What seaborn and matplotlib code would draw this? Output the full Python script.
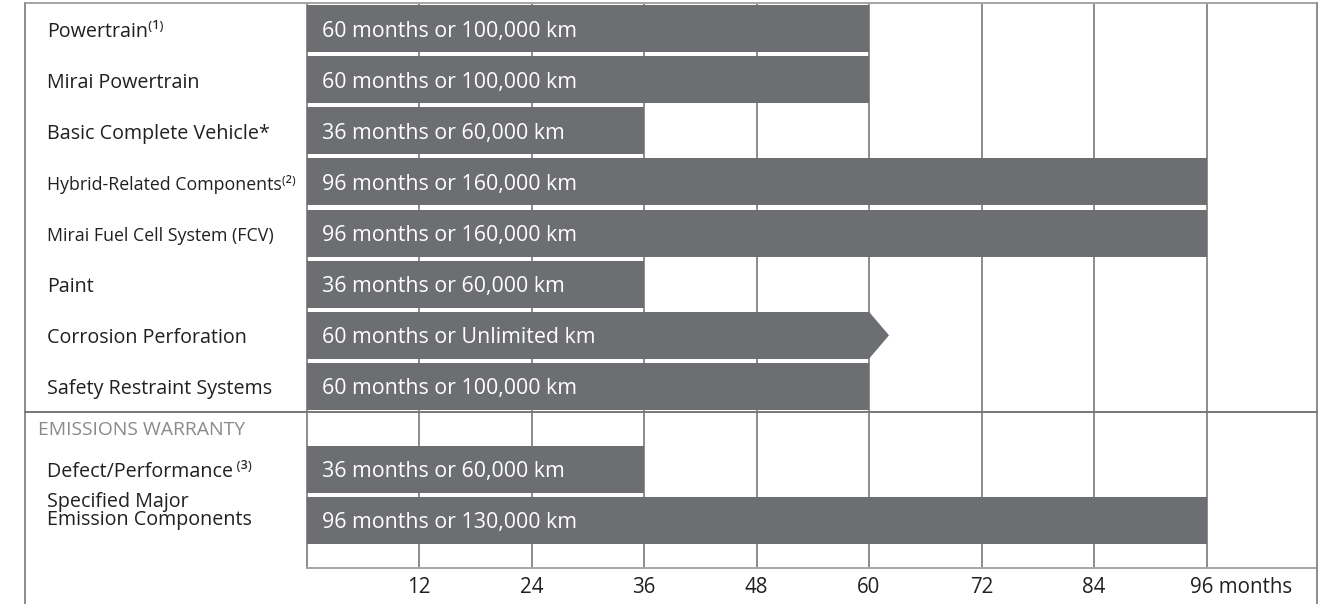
import matplotlib
matplotlib.use("Agg")
import matplotlib.pyplot as plt
import matplotlib.transforms as mtransforms
from matplotlib.lines import Line2D
from matplotlib.patches import Polygon
import seaborn as sns
import pandas as pd

# ---------------- data ----------------
coverage = ["Powertrain\u207d\u00b9\u207e", "Mirai Powertrain", "Basic Complete Vehicle*",
            "Hybrid-Related Components\u207d\u00b2\u207e", "Mirai Fuel Cell System (FCV)",
            "Paint", "Corrosion Perforation", "Safety Restraint Systems"]
coverage_months = [60, 60, 36, 96, 96, 36, 60, 60]
coverage_text = ["60 months or 100,000 km", "60 months or 100,000 km", "36 months or 60,000 km",
                 "96 months or 160,000 km", "96 months or 160,000 km", "36 months or 60,000 km",
                 "60 months or Unlimited km", "60 months or 100,000 km"]
condensed = [False, False, False, True, True, False, False, False]

section_title = "EMISSIONS WARRANTY"
emission = ["Defect/Performance\u2009\u207d\u00b3\u207e", "Specified Major\nEmission Components"]
emission_months = [36, 96]
emission_text = ["36 months or 60,000 km", "96 months or 130,000 km"]

tick_months = [12, 24, 36, 48, 60, 72, 84, 96]
tick_labels = ["12", "24", "36", "48", "60", "72", "84", "96 months"]

# ---------------- style ----------------
sns.set_theme(style="white")
plt.rcParams["font.family"] = ["Open Sans", "DejaVu Sans"]

BAR = "#6d6e71"
GRID = "#8c8c8c"
DARK = "#777777"
LIGHT = "#a5a5a5"
TXT = "#231f20"
FS = 14.2      # row labels
FSB = 15.4     # in-bar text
FST = 14.8     # tick labels

W, H = 1326, 604
fig = plt.figure(figsize=(W / 100, H / 100), dpi=100)
fig.patch.set_facecolor("white")


def fx(px):
    return px / W


def fy(py):
    return 1 - py / H


X0, X1 = 306.5, 1317.0
XMAX = (X1 - X0) / 112.5 * 12

ax1 = fig.add_axes([fx(X0), fy(412), fx(X1) - fx(X0), fy(3) - fy(412)])
ax2 = fig.add_axes([fx(X0), fy(567.5), fx(X1) - fx(X0), fy(412) - fy(567.5)])

df1 = pd.DataFrame({"label": coverage, "months": coverage_months})
df2 = pd.DataFrame({"label": emission, "months": emission_months})

for ax, df in ((ax1, df1), (ax2, df2)):
    sns.barplot(data=df, x="months", y="label", orient="h", color=BAR, saturation=1,
                width=0.92, errorbar=None, linewidth=0, ax=ax, zorder=3)
    ax.set_xlim(0, XMAX)
    ax.set_xticks(tick_months)
    ax.grid(axis="x", color=GRID, linewidth=1.4, zorder=0)
    ax.grid(axis="y", visible=False)
    ax.set_axisbelow(True)
    ax.set_xlabel("")
    ax.set_ylabel("")
    ax.set_yticks([])
    for s in ("top", "right", "bottom"):
        ax.spines[s].set_visible(False)
    ax.spines["left"].set_color(GRID)
    ax.spines["left"].set_linewidth(1.4)
    ax.set_facecolor("white")

ax1.set_ylim(7.5, -0.5)
ax1.tick_params(axis="x", length=0, labelbottom=False)

band = 51.0
ax2_top = -0.5 - 31.5 / band
ax2.set_ylim(1.5 + 21.5 / band, ax2_top)
ax2.spines["bottom"].set_visible(True)
ax2.spines["bottom"].set_color(LIGHT)
ax2.spines["bottom"].set_linewidth(1.4)
ax2.set_xticklabels(tick_labels)
ax2.tick_params(axis="x", length=0, pad=6.5, labelsize=FST, labelcolor=TXT)
last = ax2.get_xticklabels()[-1]
last.set_horizontalalignment("left")
last.set_transform(last.get_transform() +
                   mtransforms.ScaledTranslation(-16 / 100, 0, fig.dpi_scale_trans))

# arrow tip for the unlimited bar
tip = 20 / (X1 - X0) * XMAX
for i, t in enumerate(coverage_text):
    if "Unlimited" in t:
        p = ax1.patches[i]
        xe = p.get_x() + p.get_width()
        y0, h = p.get_y(), p.get_height()
        ax1.add_patch(Polygon([(xe, y0), (xe + tip, y0 + h / 2), (xe, y0 + h)],
                              closed=True, facecolor=BAR, edgecolor="none", zorder=3))

# texts
down = mtransforms.ScaledTranslation(0, -8 / 100, fig.dpi_scale_trans)
inbar = mtransforms.ScaledTranslation(16 / 100, -8 / 100, fig.dpi_scale_trans)


def label_rows(ax, labels, texts, cond):
    lab_tr = mtransforms.blended_transform_factory(fig.transFigure, ax.transData)
    for i, (lab, t, c) in enumerate(zip(labels, texts, cond)):
        ax.text(0, i, t, transform=ax.transData + inbar, ha="left", va="baseline",
                color="white", fontsize=FSB, zorder=5)
        if "\n" in lab:
            tr = lab_tr + mtransforms.ScaledTranslation(0, -5 / 100, fig.dpi_scale_trans)
        else:
            tr = lab_tr + down
        ax.text(47 / W, i, lab, transform=tr, ha="left", va="baseline", color=TXT,
                fontsize=FS * 0.9 if c else FS, linespacing=0.88, clip_on=False)


label_rows(ax1, coverage, coverage_text, condensed)
label_rows(ax2, emission, emission_text, [False, False])

hdr_tr = mtransforms.blended_transform_factory(fig.transFigure, ax2.transData) + \
    mtransforms.ScaledTranslation(0, -7 / 100, fig.dpi_scale_trans)
ax2.text(38 / W, (ax2_top - 0.5) / 2, section_title, transform=hdr_tr, ha="left",
         va="baseline", color="#8a8a8a", fontsize=FS * 0.98, clip_on=False)

# frame lines of the table
def fline(x0, y0, x1, y1, color, lw):
    fig.add_artist(Line2D([fx(x0), fx(x1)], [fy(y0), fy(y1)], color=color, linewidth=lw,
                          transform=fig.transFigure, zorder=10))


fline(25, 3, X1, 3, LIGHT, 1.4)
fline(25, 3, 25, 604, GRID, 1.4)
fline(X1, 3, X1, 604, GRID, 1.4)
fline(25, 412, X1, 412, DARK, 1.4)

fig.savefig("out.png", dpi=100, facecolor="white")
